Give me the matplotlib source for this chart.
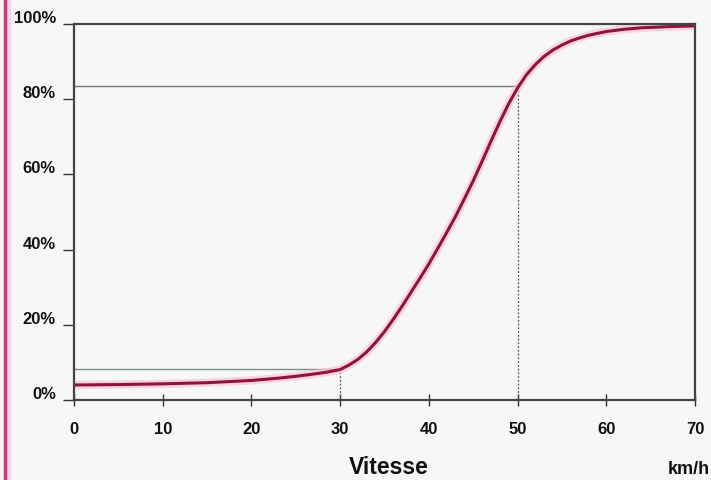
import matplotlib
matplotlib.use("Agg")
import matplotlib.pyplot as plt
import matplotlib.transforms as mtransforms
from matplotlib.lines import Line2D

# Data
speed = [0, 5, 10, 15, 20, 23, 25, 27, 28.5, 30, 31, 32, 33, 34, 35, 36, 37,
         38, 39, 40, 41, 42, 43, 44, 45, 46, 47, 48, 49, 50, 51, 52, 53, 54,
         55, 56, 57, 58, 60, 62, 64, 67, 70]
prob = [4.0, 4.1, 4.3, 4.6, 5.2, 5.8, 6.3, 6.9, 7.4, 8.1, 9.3, 10.8, 12.8,
        15.3, 18.2, 21.5, 25.0, 28.7, 32.4, 36.2, 40.3, 44.5, 48.8, 53.5,
        58.3, 63.5, 68.8, 74.0, 78.8, 83.0, 86.5, 89.2, 91.4, 93.1, 94.4,
        95.5, 96.3, 97.0, 98.0, 98.6, 99.0, 99.3, 99.5]
x_ticks = [0, 10, 20, 30, 40, 50, 60, 70]
y_ticks = [0, 20, 40, 60, 80, 100]
y_labels = ["0%", "20%", "40%", "60%", "80%", "100%"]
ref_low = (30, 8.3)
ref_high = (50, 83.5)

plt.rcParams['font.family'] = ['Liberation Sans', 'DejaVu Sans']
bg = '#f7f7f7'
fig = plt.figure(figsize=(7.11, 4.8), dpi=100, facecolor=bg)
ax = fig.add_axes([74/711, 1-400/480, (695-74)/711, (400-24)/480], facecolor=bg)

# reference lines
ax.plot([0, ref_low[0]], [ref_low[1], ref_low[1]], color='#7f9088', lw=1.0)
ax.plot([ref_low[0], ref_low[0]], [0, ref_low[1]], color='#555555', lw=0.9, ls=(0, (1.5, 1.5)))
ax.plot([0, ref_high[0]], [ref_high[1], ref_high[1]], color='#777777', lw=1.0)
ax.plot([ref_high[0], ref_high[0]], [0, ref_high[1]], color='#555555', lw=0.9, ls=(0, (1.5, 1.5)))

# curve with pink glow
ax.plot(speed, prob, color='#f9c4da', lw=6, solid_capstyle='butt',
        solid_joinstyle='round', alpha=0.7)
ax.plot(speed, prob, color='#8e1438', lw=2.2, solid_capstyle='butt',
        solid_joinstyle='round')

ax.set_xlim(0, 70)
ax.set_ylim(0, 100)
ax.set_xticks(x_ticks)
ax.set_xticklabels([str(v) for v in x_ticks], fontweight='bold', fontsize=12)
ax.set_yticks(y_ticks)
ax.set_yticklabels(y_labels, fontweight='bold', fontsize=12)
ax.tick_params(axis='x', direction='inout', length=8, width=1, colors='#333333', pad=12)
ax.tick_params(axis='y', direction='out', length=8, width=1, colors='#333333', pad=5)
for lab in ax.get_xticklabels() + ax.get_yticklabels():
    lab.set_color('#111111')
offset = mtransforms.ScaledTranslation(0, 5/72, fig.dpi_scale_trans)
for lab in ax.get_yticklabels():
    lab.set_transform(lab.get_transform() + offset)

for s in ax.spines.values():
    s.set_color('#444444')
    s.set_linewidth(1.6)

fig.text(389/711, 1-467/480, "Vitesse", fontsize=16.5, fontweight='bold',
         ha='center', va='center', color='#111111')
fig.text(689/711, 1-470/480, "km/h", fontsize=13, fontweight='bold',
         ha='center', va='center', color='#111111')

# pink side bar on left edge
fig.add_artist(Line2D([9/711, 9/711], [0, 1], transform=fig.transFigure,
                      color='#fbd3e6', lw=3))
fig.add_artist(Line2D([5/711, 5/711], [0, 1], transform=fig.transFigure,
                      color='#c8407a', lw=2.5))

fig.savefig("out.png", dpi=100, facecolor=bg)
